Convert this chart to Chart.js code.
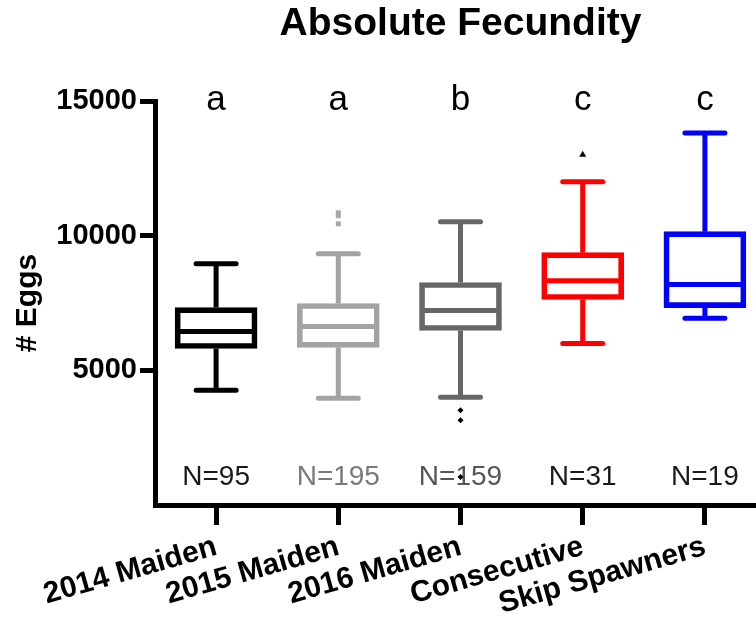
<!DOCTYPE html>
<html>
<head>
<meta charset="utf-8">
<script src="https://cdn.jsdelivr.net/npm/chart.js@4.4.0/dist/chart.umd.min.js"></script>
<style>
  html, body { margin: 0; padding: 0; overflow: hidden; background: #fff; }
  #wrap { width: 770px; height: 625px; }
</style>
</head>
<body>
<div id="wrap"><canvas id="fecundityChart"></canvas></div>
<script>
// groups and box plot stats (# eggs)
const groups = ['2014 Maiden', '2015 Maiden', '2016 Maiden', 'Consecutive', 'Skip Spawners'];
const whiskerLow = [4260, 3960, 4000, 6000, 6930];
const q1 = [5810, 5850, 6480, 7630, 7330];
const medians = [6440, 6630, 7220, 8330, 8190];
const q3 = [7330, 7480, 8260, 9370, 10150];
const whiskerHigh = [8960, 9330, 10520, 12000, 13810];
// outliers
const outliers2015 = [10850, 10740, 10440];
const outliers2016 = [3520, 3150, 1040];
const outliersConsecutive = [13000];
// annotations
const sigLetters = ['a', 'a', 'b', 'c', 'c'];
const sampleSizes = [95, 195, 159, 31, 19];
const yTicks = [5000, 10000, 15000];

const boxColors = ['#000000', '#a3a3a3', '#666666', '#ff0000', '#0000ff'];
const nColors = ['#1a1a1a', '#7a7a7a', '#555555', '#1a1a1a', '#1a1a1a'];
const FONT = "'Liberation Sans', Arial, Helvetica, sans-serif";

// text labels (under the marks) + whiskers and medians (over the boxes)
const boxPlotExtras = {
    id: 'boxPlotExtras',
    beforeDatasetsDraw(chart) {
        const { ctx, chartArea, scales: { x } } = chart;
        ctx.save();
        ctx.textAlign = 'center';
        groups.forEach((g, i) => {
            const cx = x.getPixelForValue(i);
            // significance letters
            ctx.fillStyle = '#000';
            ctx.font = '35px ' + FONT;
            ctx.textBaseline = 'alphabetic';
            ctx.fillText(sigLetters[i], cx, chartArea.top + 9);
            // sample sizes
            ctx.fillStyle = nColors[i];
            ctx.font = '28px ' + FONT;
            ctx.textBaseline = 'middle';
            ctx.fillText('N=' + sampleSizes[i], cx, chartArea.bottom - 28);
        });

        // chart title
        ctx.fillStyle = '#000';
        ctx.font = 'bold 39px ' + FONT;
        ctx.textBaseline = 'middle';
        ctx.fillText('Absolute Fecundity', (chartArea.left + chartArea.right) / 2, 24);

        // y axis title
        ctx.translate(28, (chartArea.top + chartArea.bottom) / 2);
        ctx.rotate(-Math.PI / 2);
        ctx.font = 'bold 30px ' + FONT;
        ctx.fillText('# Eggs', 0, 0);
        ctx.restore();
    },
    afterDatasetsDraw(chart) {
        const { ctx, scales: { x, y } } = chart;
        ctx.save();
        ctx.lineWidth = 5;
        groups.forEach((g, i) => {
            const cx = x.getPixelForValue(i);
            ctx.strokeStyle = boxColors[i];
            // median
            ctx.lineCap = 'butt';
            ctx.beginPath();
            ctx.moveTo(cx - 40, y.getPixelForValue(medians[i]));
            ctx.lineTo(cx + 40, y.getPixelForValue(medians[i]));
            ctx.stroke();
            // whisker stems
            ctx.beginPath();
            ctx.moveTo(cx, y.getPixelForValue(q3[i]));
            ctx.lineTo(cx, y.getPixelForValue(whiskerHigh[i]));
            ctx.moveTo(cx, y.getPixelForValue(q1[i]));
            ctx.lineTo(cx, y.getPixelForValue(whiskerLow[i]));
            ctx.stroke();
            // caps
            ctx.lineCap = 'round';
            ctx.beginPath();
            ctx.moveTo(cx - 20, y.getPixelForValue(whiskerHigh[i]));
            ctx.lineTo(cx + 20, y.getPixelForValue(whiskerHigh[i]));
            ctx.moveTo(cx - 20, y.getPixelForValue(whiskerLow[i]));
            ctx.lineTo(cx + 20, y.getPixelForValue(whiskerLow[i]));
            ctx.stroke();
        });
        ctx.restore();
    }
};

const ctx = document.getElementById('fecundityChart').getContext('2d');
const fecundityChart = new Chart(ctx, {
    type: 'bar',
    data: {
        labels: groups,
        datasets: [{
            label: 'IQR',
            data: groups.map((g, i) => [q1[i], q3[i]]),
            backgroundColor: 'rgba(0,0,0,0)',
            borderColor: boxColors,
            borderWidth: 5,
            borderSkipped: false,
            barThickness: 82,
            order: 2
        }, {
            type: 'scatter',
            label: '2015 outliers',
            data: outliers2015.map(v => ({ x: groups[1], y: v })),
            pointStyle: 'rect',
            radius: 3.5,
            backgroundColor: '#a8a8a8',
            borderWidth: 0,
            order: 1
        }, {
            type: 'scatter',
            label: '2016 outliers',
            data: outliers2016.map(v => ({ x: groups[2], y: v })),
            pointStyle: 'rectRot',
            radius: 3,
            backgroundColor: '#000',
            borderWidth: 0,
            order: 1
        }, {
            type: 'scatter',
            label: 'Consecutive outliers',
            data: outliersConsecutive.map(v => ({ x: groups[3], y: v })),
            pointStyle: 'triangle',
            radius: 4,
            backgroundColor: '#000',
            borderWidth: 0,
            order: 1
        }]
    },
    options: {
        responsive: true,
        maintainAspectRatio: false,
        animation: false,
        layout: { padding: { top: 101, left: 0, right: 0, bottom: 0 } },
        plugins: {
            legend: { display: false },
            tooltip: { enabled: false }
        },
        scales: {
            x: {
                type: 'category',
                offset: true,
                grid: {
                    offset: false,
                    drawOnChartArea: false,
                    drawTicks: true,
                    tickLength: 20,
                    tickWidth: 5,
                    tickColor: '#000'
                },
                border: { display: true, color: '#000', width: 5 },
                ticks: {
                    autoSkip: false,
                    minRotation: 16,
                    maxRotation: 16,
                    padding: 4,
                    color: '#000',
                    font: { family: FONT, size: 30, weight: 'bold' }
                },
                afterFit(scale) { scale.height = 120; }
            },
            y: {
                min: 0,
                max: 15000,
                afterBuildTicks(scale) {
                    scale.ticks = yTicks.map(v => ({ value: v }));
                },
                grid: {
                    drawOnChartArea: false,
                    drawTicks: true,
                    tickLength: 15,
                    tickWidth: 5,
                    tickColor: '#000'
                },
                border: { display: true, color: '#000', width: 5 },
                ticks: {
                    padding: 3,
                    color: '#000',
                    font: { family: FONT, size: 29, weight: 'bold' },
                    callback: (value) => String(value)
                },
                afterFit(scale) { scale.width = 155; }
            }
        }
    },
    plugins: [boxPlotExtras]
});
</script>
</body>
</html>
